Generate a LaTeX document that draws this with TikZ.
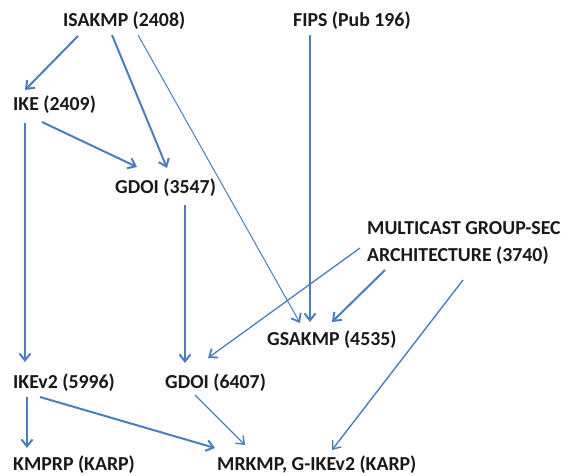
\documentclass[tikz,border=0pt]{standalone}
\usepackage{fontspec}
\setmainfont{Carlito}
\usetikzlibrary{arrows.meta}
\definecolor{linkblue}{RGB}{74,126,189}
\definecolor{labeltext}{RGB}{25,25,25}
\tikzset{
  spec/.style={anchor=west, inner sep=0pt, text=labeltext,
    font=\fontsize{19.8}{27}\selectfont\bfseries},
  dep/.style={draw=linkblue, line width=2pt,
    -{Straight Barb[length=7pt,width=11pt]}},
  weak/.style={draw=linkblue, line width=1pt,
    -{Straight Barb[length=7pt,width=11pt,line width=1.8pt]}},
  mid/.style={dep, line width=1.4pt}
}
\begin{document}
\begin{tikzpicture}[x=1pt,y=-1pt]
  \useasboundingbox (0,0) rectangle (564,475);
  % protocol labels
  \node[spec] (isakmp) at (63,21)  {ISAKMP (2408)};
  \node[spec] (fips)   at (293,21) {FIPS (Pub 196)};
  \node[spec] (ike)    at (13,105) {IKE (2409)};
  \node[spec] (gdoiA)  at (115,188) {GDOI (3547)};
  \node[spec, align=left] (msec) at (367,243)
    {MULTICAST GROUP-SEC\\ARCHITECTURE (3740)};
  \node[spec] (gsakmp) at (267,340) {GSAKMP (4535)};
  \node[spec] (ikev2)  at (13,383) {IKEv2 (5996)};
  \node[spec] (gdoiB)  at (165,383) {GDOI (6407)};
  \node[spec] (kmprp)  at (13,465) {KMPRP (KARP)};
  \node[spec] (mrkmp)  at (217,465) {MRKMP, G-IKEv2 (KARP)};
  % dependencies
  \draw[dep]  ([shift={(15,15)}]isakmp.west) -- ([shift={(12,-15)}]ike.west);
  \draw[dep]  ([shift={(49,14)}]isakmp.west) -- ([shift={(52,-20)}]gdoiA.west);
  \draw[weak] ([shift={(75,14)}]isakmp.west) -- ([shift={(33,-17)}]gsakmp.west);
  \draw[dep]  ([shift={(29,17)}]ike.west)    -- ([shift={(22,-21)}]gdoiA.west);
  \draw[dep]  ([shift={(12,18)}]ike.west)    -- ([shift={(12,-21)}]ikev2.west);
  \draw[dep]  ([shift={(70,17)}]gdoiA.west)  -- ([shift={(20,-20)}]gdoiB.west);
  \draw[dep]  ([shift={(17,14)}]fips.west)   -- ([shift={(43,-18)}]gsakmp.west);
  \draw[weak, line width=1.3pt] ([shift={(-7,5)}]msec.west) -- ([shift={(43,-25)}]gdoiB.west);
  \draw[dep]  ([shift={(18,27)}]msec.west)   -- ([shift={(65,-18)}]gsakmp.west);
  \draw[mid]  ([shift={(96,37)}]msec.west)   -- ([shift={(115,-15)}]mrkmp.west);
  \draw[dep]  ([shift={(14,14)}]ikev2.west)  -- ([shift={(14,-17)}]kmprp.west);
  \draw[dep]  ([shift={(27,14)}]ikev2.west)  -- ([shift={(-2,-17)}]mrkmp.west);
  \draw[mid]  ([shift={(30,12)}]gdoiB.west)  -- ([shift={(28,-20)}]mrkmp.west);
\end{tikzpicture}
\end{document}
